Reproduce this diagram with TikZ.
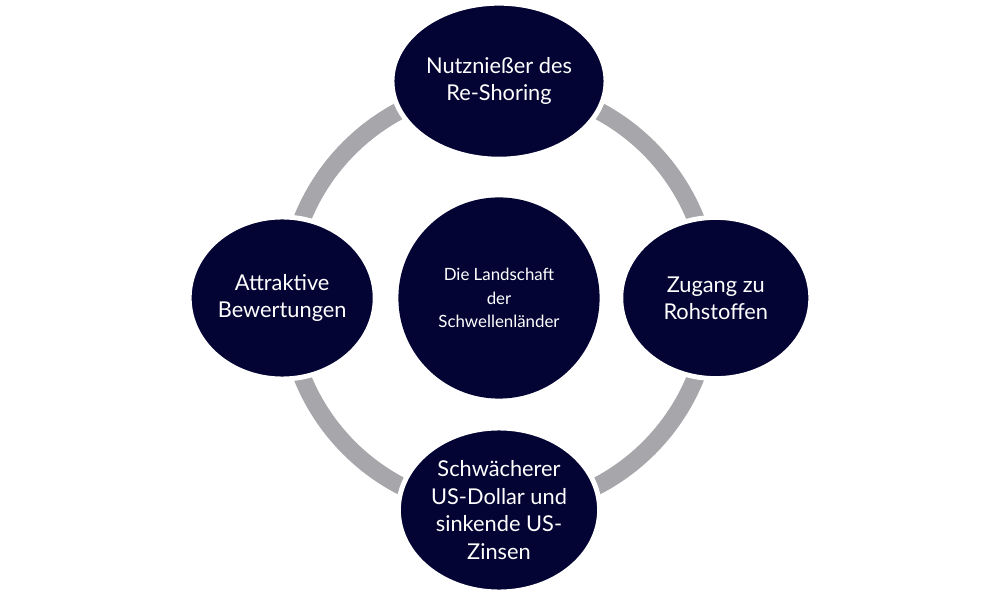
\documentclass[tikz,border=0pt]{standalone}
\usepackage{fontspec}
\setmainfont{Lato}
\usetikzlibrary{positioning,shapes.geometric}
\definecolor{navy}{RGB}{4,4,52}
\definecolor{ringgray}{RGB}{167,167,171}
\tikzstyle{topic} = [ellipse, fill=navy, draw=white, line width=3.5pt, text=white, align=center, inner sep=0pt, font=\fontsize{15.5}{19.5}\selectfont]
\tikzstyle{hub} = [circle, fill=navy, text=white, align=center, inner sep=0pt, minimum size=5.03cm, font=\fontsize{12}{16.5}\selectfont]
\tikzstyle{ring} = [draw=ringgray, line width=0.44cm]

\begin{document}
\begin{tikzpicture}[node distance=5.42cm]
	\useasboundingbox (-12.475,-7.475) rectangle (12.525,7.45);
	\node [hub] (centre) {Die Landschaft\\der\\Schwellenländer};
	\draw [ring] (centre) circle (5.3cm);

	\node [topic, above of=centre, minimum width=5.35cm, minimum height=3.9cm] (reshoring) {Nutznießer des\\Re-Shoring};
	\node [topic, right of=centre, minimum width=4.75cm, minimum height=4.03cm] (rohstoffe) {Zugang zu\\Rohstoffen};
	\node [topic, below of=centre, node distance=5.3cm, minimum width=5.03cm, minimum height=4.1cm] (dollar) {Schwächerer\\US-Dollar und\\sinkende US-\\Zinsen};
	\node [topic, left of=centre, minimum width=4.65cm, minimum height=4.05cm] (bewertung) {Attraktive\\Bewertungen};
\end{tikzpicture}
\end{document}
